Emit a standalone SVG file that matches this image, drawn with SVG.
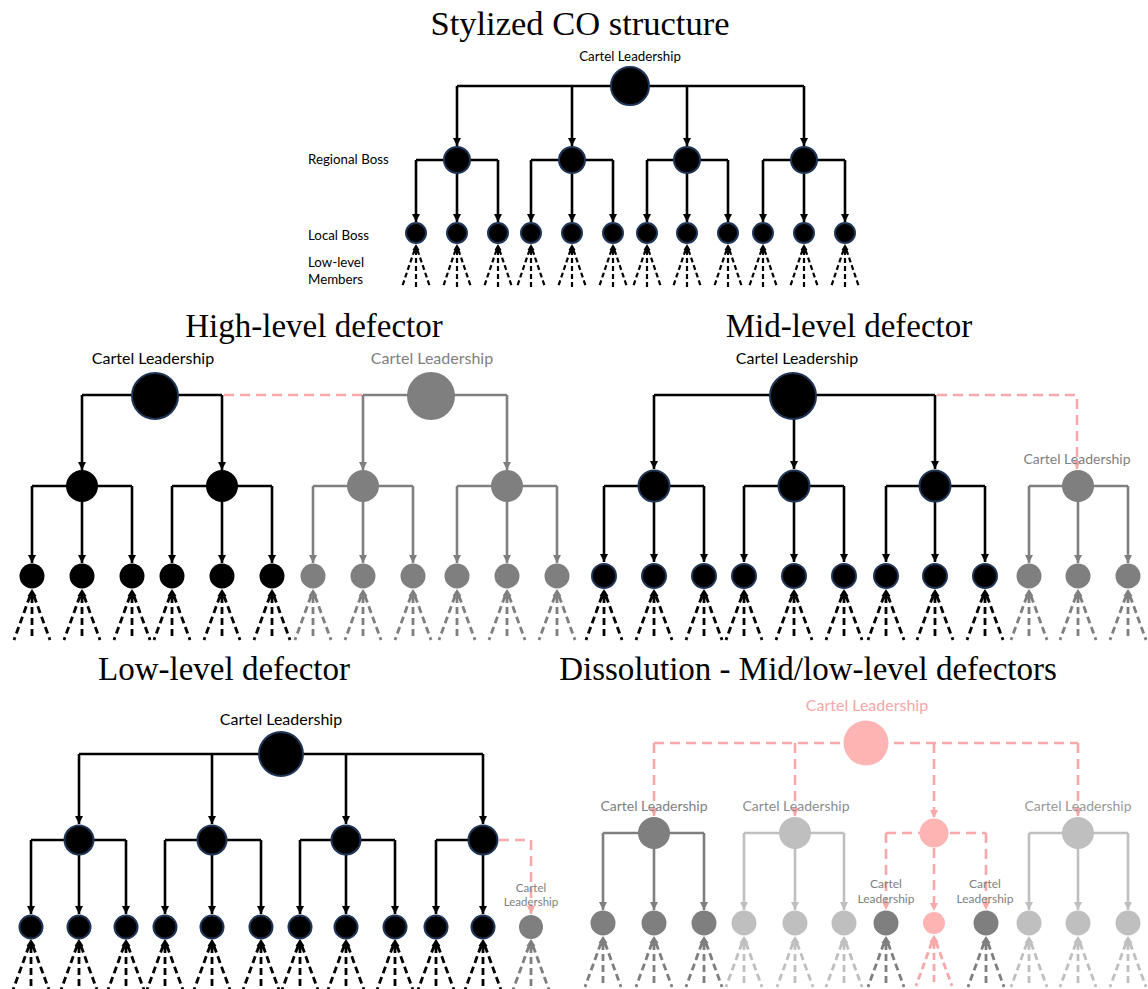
<svg xmlns="http://www.w3.org/2000/svg" xmlns:xlink="http://www.w3.org/1999/xlink" width="1148" height="989" viewBox="0 0 1148 989">
<style>
.title{font-family:"Liberation Serif","DejaVu Serif",serif;font-size:33px;text-anchor:middle;fill:#000}
.lbl{font-family:Lato,"Liberation Sans",sans-serif;fill:#000}
.mid{text-anchor:middle}
.cb,.cg,.cl,.cp{fill:none;stroke-width:2.6}
.cb{stroke:#000}
.cg{stroke:#7f7f7f}
.cl{stroke:#bfbfbf}
.cp{stroke:#f8a8a8;stroke-dasharray:10 6}
.nb{fill:#000;stroke:#1f3556;stroke-width:2}
.nk{fill:#000}
.ng{fill:#7f7f7f}
.nl{fill:#bfbfbf}
.np{fill:#ffb4b4}
.fan path{fill:none;stroke:currentColor}
.fan polygon{fill:currentColor}
</style>
<defs>
<marker id="aB" viewBox="0 0 10 10" refX="10" refY="5" markerWidth="8" markerHeight="8" markerUnits="userSpaceOnUse" orient="auto"><path d="M0,0 L10,5 L0,10z" fill="#000"/></marker>
<marker id="aG" viewBox="0 0 10 10" refX="10" refY="5" markerWidth="8" markerHeight="8" markerUnits="userSpaceOnUse" orient="auto"><path d="M0,0 L10,5 L0,10z" fill="#7f7f7f"/></marker>
<marker id="aL" viewBox="0 0 10 10" refX="10" refY="5" markerWidth="8" markerHeight="8" markerUnits="userSpaceOnUse" orient="auto"><path d="M0,0 L10,5 L0,10z" fill="#bfbfbf"/></marker>
<marker id="aP" viewBox="0 0 10 10" refX="10" refY="5" markerWidth="8" markerHeight="8" markerUnits="userSpaceOnUse" orient="auto"><path d="M0,0 L10,5 L0,10z" fill="#f8a8a8"/></marker>
<g id="fanS" class="fan"><polygon points="0,0 -3.5,6 3.5,6"/><path d="M-1.5,6 L-14,43 M0,6 V43 M1.5,6 L14,43" stroke-width="2.2" stroke-dasharray="5 3"/></g>
<g id="fanL" class="fan"><polygon points="0,0 -4.5,7 4.5,7"/><path d="M-2,7 L-18,51 M0,7 V51 M2,7 L18,51" stroke-width="2.8" stroke-dasharray="7 4"/></g>
</defs>
<rect width="1148" height="989" fill="#fff"/>

<g id="titles">
<text class="title" x="580" y="35" style="font-size:34.5px">Stylized CO structure</text>
<text class="title" x="314" y="337">High-level defector</text>
<text class="title" x="849" y="337">Mid-level defector</text>
<text class="title" x="224" y="680">Low-level defector</text>
<text class="title" x="808" y="680">Dissolution - Mid/low-level defectors</text>
</g>

<g id="level-labels" class="lbl" font-size="13.3">
<text x="308" y="164">Regional Boss</text>
<text x="308" y="240">Local Boss</text>
<text x="308" y="267">Low-level</text>
<text x="308" y="284">Members</text>
</g>

<g id="connectors">
<!-- top -->
<path class="cb" d="M457,86 H804"/>
<path class="cb" marker-end="url(#aB)" d="M457,86 V146"/>
<path class="cb" marker-end="url(#aB)" d="M572,86 V146"/>
<path class="cb" marker-end="url(#aB)" d="M687,86 V146"/>
<path class="cb" marker-end="url(#aB)" d="M804,86 V146"/>
<path class="cb" d="M416,160 H498 M531,160 H613 M647,160 H728 M763,160 H845"/>
<path class="cb" marker-end="url(#aB)" d="M416,160 V222"/>
<path class="cb" marker-end="url(#aB)" d="M457,160 V222"/>
<path class="cb" marker-end="url(#aB)" d="M498,160 V222"/>
<path class="cb" marker-end="url(#aB)" d="M531,160 V222"/>
<path class="cb" marker-end="url(#aB)" d="M572,160 V222"/>
<path class="cb" marker-end="url(#aB)" d="M613,160 V222"/>
<path class="cb" marker-end="url(#aB)" d="M647,160 V222"/>
<path class="cb" marker-end="url(#aB)" d="M687,160 V222"/>
<path class="cb" marker-end="url(#aB)" d="M728,160 V222"/>
<path class="cb" marker-end="url(#aB)" d="M763,160 V222"/>
<path class="cb" marker-end="url(#aB)" d="M804,160 V222"/>
<path class="cb" marker-end="url(#aB)" d="M845,160 V222"/>

<!-- high-level: black -->
<path class="cb" d="M82,395 H222"/>
<path class="cb" marker-end="url(#aB)" d="M82,395 V470"/>
<path class="cb" marker-end="url(#aB)" d="M222,395 V470"/>
<path class="cb" d="M32,486 H132 M172,486 H272"/>
<path class="cb" marker-end="url(#aB)" d="M32,486 V563"/>
<path class="cb" marker-end="url(#aB)" d="M82,486 V563"/>
<path class="cb" marker-end="url(#aB)" d="M132,486 V563"/>
<path class="cb" marker-end="url(#aB)" d="M172,486 V563"/>
<path class="cb" marker-end="url(#aB)" d="M222,486 V563"/>
<path class="cb" marker-end="url(#aB)" d="M272,486 V563"/>
<path class="cp" d="M224,395 H362"/>
<!-- high-level: gray -->
<path class="cg" d="M363,395 H507"/>
<path class="cg" marker-end="url(#aG)" d="M363,395 V470"/>
<path class="cg" marker-end="url(#aG)" d="M507,395 V470"/>
<path class="cg" d="M313,486 H413 M457,486 H557"/>
<path class="cg" marker-end="url(#aG)" d="M313,486 V563"/>
<path class="cg" marker-end="url(#aG)" d="M363,486 V563"/>
<path class="cg" marker-end="url(#aG)" d="M413,486 V563"/>
<path class="cg" marker-end="url(#aG)" d="M457,486 V563"/>
<path class="cg" marker-end="url(#aG)" d="M507,486 V563"/>
<path class="cg" marker-end="url(#aG)" d="M557,486 V563"/>

<!-- mid-level -->
<path class="cb" d="M654,395 H935"/>
<path class="cb" marker-end="url(#aB)" d="M654,395 V469"/>
<path class="cb" marker-end="url(#aB)" d="M794,395 V469"/>
<path class="cb" marker-end="url(#aB)" d="M935,395 V469"/>
<path class="cb" d="M604,486 H704 M744,486 H844 M886,486 H985"/>
<path class="cb" marker-end="url(#aB)" d="M604,486 V562"/>
<path class="cb" marker-end="url(#aB)" d="M654,486 V562"/>
<path class="cb" marker-end="url(#aB)" d="M704,486 V562"/>
<path class="cb" marker-end="url(#aB)" d="M744,486 V562"/>
<path class="cb" marker-end="url(#aB)" d="M794,486 V562"/>
<path class="cb" marker-end="url(#aB)" d="M844,486 V562"/>
<path class="cb" marker-end="url(#aB)" d="M886,486 V562"/>
<path class="cb" marker-end="url(#aB)" d="M935,486 V562"/>
<path class="cb" marker-end="url(#aB)" d="M985,486 V562"/>
<path class="cp" marker-end="url(#aP)" d="M937,395 H1077 V469"/>
<path class="cg" d="M1029,486 H1128"/>
<path class="cg" marker-end="url(#aG)" d="M1029,486 V563"/>
<path class="cg" marker-end="url(#aG)" d="M1078,486 V563"/>
<path class="cg" marker-end="url(#aG)" d="M1128,486 V563"/>

<!-- low-level -->
<path class="cb" d="M79,754 H483"/>
<path class="cb" marker-end="url(#aB)" d="M79,754 V824"/>
<path class="cb" marker-end="url(#aB)" d="M212,754 V824"/>
<path class="cb" marker-end="url(#aB)" d="M346,754 V824"/>
<path class="cb" marker-end="url(#aB)" d="M483,754 V824"/>
<path class="cb" d="M31,840 H126 M165,840 H261 M300,840 H395 M436,840 H483"/>
<path class="cb" marker-end="url(#aB)" d="M31,840 V914"/>
<path class="cb" marker-end="url(#aB)" d="M79,840 V914"/>
<path class="cb" marker-end="url(#aB)" d="M126,840 V914"/>
<path class="cb" marker-end="url(#aB)" d="M165,840 V914"/>
<path class="cb" marker-end="url(#aB)" d="M212,840 V914"/>
<path class="cb" marker-end="url(#aB)" d="M261,840 V914"/>
<path class="cb" marker-end="url(#aB)" d="M300,840 V914"/>
<path class="cb" marker-end="url(#aB)" d="M346,840 V914"/>
<path class="cb" marker-end="url(#aB)" d="M395,840 V914"/>
<path class="cb" marker-end="url(#aB)" d="M436,840 V914"/>
<path class="cb" marker-end="url(#aB)" d="M483,840 V914"/>
<path class="cp" marker-end="url(#aP)" d="M499,840 H531 V914"/>

<!-- dissolution -->
<path class="cp" d="M654,743 H1078"/>
<path class="cp" marker-end="url(#aP)" d="M654,743 V816"/>
<path class="cp" marker-end="url(#aP)" d="M795,743 V816"/>
<path class="cp" marker-end="url(#aP)" d="M934,743 V818"/>
<path class="cp" marker-end="url(#aP)" d="M1078,743 V816"/>
<path class="cg" d="M603,833 H704"/>
<path class="cg" marker-end="url(#aG)" d="M603,833 V910"/>
<path class="cg" marker-end="url(#aG)" d="M654,833 V910"/>
<path class="cg" marker-end="url(#aG)" d="M704,833 V910"/>
<path class="cl" d="M744,833 H844"/>
<path class="cl" marker-end="url(#aL)" d="M744,833 V910"/>
<path class="cl" marker-end="url(#aL)" d="M795,833 V910"/>
<path class="cl" marker-end="url(#aL)" d="M844,833 V910"/>
<path class="cp" d="M886,833 H986"/>
<path class="cp" marker-end="url(#aP)" d="M886,833 V910"/>
<path class="cp" marker-end="url(#aP)" d="M934,848 V911"/>
<path class="cp" marker-end="url(#aP)" d="M986,833 V910"/>
<path class="cl" d="M1029,833 H1128"/>
<path class="cl" marker-end="url(#aL)" d="M1029,833 V910"/>
<path class="cl" marker-end="url(#aL)" d="M1078,833 V910"/>
<path class="cl" marker-end="url(#aL)" d="M1128,833 V910"/>
</g>

<g id="members">
<g style="color:#000">
<use href="#fanS" x="416" y="244"/><use href="#fanS" x="457" y="244"/><use href="#fanS" x="498" y="244"/>
<use href="#fanS" x="531" y="244"/><use href="#fanS" x="572" y="244"/><use href="#fanS" x="613" y="244"/>
<use href="#fanS" x="647" y="244"/><use href="#fanS" x="687" y="244"/><use href="#fanS" x="728" y="244"/>
<use href="#fanS" x="763" y="244"/><use href="#fanS" x="804" y="244"/><use href="#fanS" x="845" y="244"/>
<use href="#fanL" x="32" y="589"/><use href="#fanL" x="82" y="589"/><use href="#fanL" x="132" y="589"/>
<use href="#fanL" x="172" y="589"/><use href="#fanL" x="222" y="589"/><use href="#fanL" x="272" y="589"/>
<use href="#fanL" x="604" y="589"/><use href="#fanL" x="654" y="589"/><use href="#fanL" x="704" y="589"/>
<use href="#fanL" x="744" y="589"/><use href="#fanL" x="794" y="589"/><use href="#fanL" x="844" y="589"/>
<use href="#fanL" x="886" y="589"/><use href="#fanL" x="935" y="589"/><use href="#fanL" x="985" y="589"/>
<use href="#fanL" x="31" y="939"/><use href="#fanL" x="79" y="939"/><use href="#fanL" x="126" y="939"/>
<use href="#fanL" x="165" y="939"/><use href="#fanL" x="212" y="939"/><use href="#fanL" x="261" y="939"/>
<use href="#fanL" x="300" y="939"/><use href="#fanL" x="346" y="939"/><use href="#fanL" x="395" y="939"/>
<use href="#fanL" x="436" y="939"/><use href="#fanL" x="483" y="939"/>
</g>
<g style="color:#7f7f7f">
<use href="#fanL" x="313" y="589"/><use href="#fanL" x="363" y="589"/><use href="#fanL" x="413" y="589"/>
<use href="#fanL" x="457" y="589"/><use href="#fanL" x="507" y="589"/><use href="#fanL" x="557" y="589"/>
<use href="#fanL" x="1029" y="589"/><use href="#fanL" x="1078" y="589"/><use href="#fanL" x="1128" y="589"/>
<use href="#fanL" x="531" y="939"/>
<use href="#fanL" x="603" y="936"/><use href="#fanL" x="654" y="936"/><use href="#fanL" x="704" y="936"/>
<use href="#fanL" x="886" y="936"/><use href="#fanL" x="986" y="936"/>
</g>
<g style="color:#bfbfbf">
<use href="#fanL" x="744" y="936"/><use href="#fanL" x="795" y="936"/><use href="#fanL" x="844" y="936"/>
<use href="#fanL" x="1029" y="936"/><use href="#fanL" x="1078" y="936"/><use href="#fanL" x="1128" y="936"/>
</g>
<g style="color:#f8a8a8">
<use href="#fanL" x="934" y="935"/>
</g>
</g>

<!-- TOP nodes -->
<g id="top-leader"><circle class="nb" cx="630" cy="86" r="19"/><text class="lbl mid" x="630" y="61" font-size="13.3">Cartel Leadership</text></g>
<g id="top-r1"><circle class="nb" cx="457" cy="160" r="13"/></g>
<g id="top-r2"><circle class="nb" cx="572" cy="160" r="13"/></g>
<g id="top-r3"><circle class="nb" cx="687" cy="160" r="13"/></g>
<g id="top-r4"><circle class="nb" cx="804" cy="160" r="13"/></g>
<g id="top-l1"><circle class="nb" cx="416" cy="233" r="10"/></g>
<g id="top-l2"><circle class="nb" cx="457" cy="233" r="10"/></g>
<g id="top-l3"><circle class="nb" cx="498" cy="233" r="10"/></g>
<g id="top-l4"><circle class="nb" cx="531" cy="233" r="10"/></g>
<g id="top-l5"><circle class="nb" cx="572" cy="233" r="10"/></g>
<g id="top-l6"><circle class="nb" cx="613" cy="233" r="10"/></g>
<g id="top-l7"><circle class="nb" cx="647" cy="233" r="10"/></g>
<g id="top-l8"><circle class="nb" cx="687" cy="233" r="10"/></g>
<g id="top-l9"><circle class="nb" cx="728" cy="233" r="10"/></g>
<g id="top-l10"><circle class="nb" cx="763" cy="233" r="10"/></g>
<g id="top-l11"><circle class="nb" cx="804" cy="233" r="10"/></g>
<g id="top-l12"><circle class="nb" cx="845" cy="233" r="10"/></g>

<!-- HIGH-LEVEL nodes -->
<g id="hi-leader"><circle class="nb" cx="155" cy="396" r="23"/><text class="lbl mid" x="153" y="364" font-size="16">Cartel Leadership</text></g>
<g id="hi-r1"><circle class="nk" cx="82" cy="486" r="16"/></g>
<g id="hi-r2"><circle class="nk" cx="222" cy="486" r="16"/></g>
<g id="hi-l1"><circle class="nk" cx="32" cy="576" r="12.5"/></g>
<g id="hi-l2"><circle class="nk" cx="82" cy="576" r="12.5"/></g>
<g id="hi-l3"><circle class="nk" cx="132" cy="576" r="12.5"/></g>
<g id="hi-l4"><circle class="nk" cx="172" cy="576" r="12.5"/></g>
<g id="hi-l5"><circle class="nk" cx="222" cy="576" r="12.5"/></g>
<g id="hi-l6"><circle class="nk" cx="272" cy="576" r="12.5"/></g>
<g id="hi-gleader"><circle class="ng" cx="431" cy="396" r="24"/><text class="lbl mid" x="432" y="364" font-size="16" style="fill:#808080">Cartel Leadership</text></g>
<g id="hi-gr1"><circle class="ng" cx="363" cy="486" r="16"/></g>
<g id="hi-gr2"><circle class="ng" cx="507" cy="486" r="16"/></g>
<g id="hi-gl1"><circle class="ng" cx="313" cy="576" r="12.5"/></g>
<g id="hi-gl2"><circle class="ng" cx="363" cy="576" r="12.5"/></g>
<g id="hi-gl3"><circle class="ng" cx="413" cy="576" r="12.5"/></g>
<g id="hi-gl4"><circle class="ng" cx="457" cy="576" r="12.5"/></g>
<g id="hi-gl5"><circle class="ng" cx="507" cy="576" r="12.5"/></g>
<g id="hi-gl6"><circle class="ng" cx="557" cy="576" r="12.5"/></g>

<!-- MID-LEVEL nodes -->
<g id="mid-leader"><circle class="nb" cx="793" cy="396" r="23"/><text class="lbl mid" x="797" y="364" font-size="16">Cartel Leadership</text></g>
<g id="mid-r1"><circle class="nb" cx="654" cy="486" r="15.5"/></g>
<g id="mid-r2"><circle class="nb" cx="794" cy="486" r="15.5"/></g>
<g id="mid-r3"><circle class="nb" cx="935" cy="486" r="15.5"/></g>
<g id="mid-l1"><circle class="nb" cx="604" cy="576" r="12"/></g>
<g id="mid-l2"><circle class="nb" cx="654" cy="576" r="12"/></g>
<g id="mid-l3"><circle class="nb" cx="704" cy="576" r="12"/></g>
<g id="mid-l4"><circle class="nb" cx="744" cy="576" r="12"/></g>
<g id="mid-l5"><circle class="nb" cx="794" cy="576" r="12"/></g>
<g id="mid-l6"><circle class="nb" cx="844" cy="576" r="12"/></g>
<g id="mid-l7"><circle class="nb" cx="886" cy="576" r="12"/></g>
<g id="mid-l8"><circle class="nb" cx="935" cy="576" r="12"/></g>
<g id="mid-l9"><circle class="nb" cx="985" cy="576" r="12"/></g>
<g id="mid-gr"><circle class="ng" cx="1078" cy="486" r="16"/><text class="lbl mid" x="1077" y="464" font-size="14" style="fill:#808080">Cartel Leadership</text></g>
<g id="mid-gl1"><circle class="ng" cx="1029" cy="576" r="12.5"/></g>
<g id="mid-gl2"><circle class="ng" cx="1078" cy="576" r="12.5"/></g>
<g id="mid-gl3"><circle class="ng" cx="1128" cy="576" r="12.5"/></g>

<!-- LOW-LEVEL nodes -->
<g id="low-leader"><circle class="nb" cx="281" cy="754" r="22"/><text class="lbl mid" x="281" y="725" font-size="16">Cartel Leadership</text></g>
<g id="low-r1"><circle class="nb" cx="79" cy="840" r="14.5"/></g>
<g id="low-r2"><circle class="nb" cx="212" cy="840" r="14.5"/></g>
<g id="low-r3"><circle class="nb" cx="346" cy="840" r="14.5"/></g>
<g id="low-r4"><circle class="nb" cx="483" cy="840" r="14.5"/></g>
<g id="low-l1"><circle class="nb" cx="31" cy="927" r="11.5"/></g>
<g id="low-l2"><circle class="nb" cx="79" cy="927" r="11.5"/></g>
<g id="low-l3"><circle class="nb" cx="126" cy="927" r="11.5"/></g>
<g id="low-l4"><circle class="nb" cx="165" cy="927" r="11.5"/></g>
<g id="low-l5"><circle class="nb" cx="212" cy="927" r="11.5"/></g>
<g id="low-l6"><circle class="nb" cx="261" cy="927" r="11.5"/></g>
<g id="low-l7"><circle class="nb" cx="300" cy="927" r="11.5"/></g>
<g id="low-l8"><circle class="nb" cx="346" cy="927" r="11.5"/></g>
<g id="low-l9"><circle class="nb" cx="395" cy="927" r="11.5"/></g>
<g id="low-l10"><circle class="nb" cx="436" cy="927" r="11.5"/></g>
<g id="low-l11"><circle class="nb" cx="483" cy="927" r="11.5"/></g>
<g id="low-g"><circle class="ng" cx="531" cy="927" r="12"/><text class="lbl mid" x="531" y="892" font-size="11.5" style="fill:#808080">Cartel</text><text class="lbl mid" x="531" y="906" font-size="11.5" style="fill:#808080">Leadership</text></g>

<!-- DISSOLUTION nodes -->
<g id="dis-leader"><circle class="np" cx="866" cy="743" r="22.5"/><text class="lbl mid" x="867" y="711" font-size="16" style="fill:#f6a7a7">Cartel Leadership</text></g>
<g id="dis-a"><circle class="ng" cx="654" cy="833" r="16"/><text class="lbl mid" x="654" y="811" font-size="14" style="fill:#808080">Cartel Leadership</text></g>
<g id="dis-b"><circle class="nl" cx="795" cy="833" r="16"/><text class="lbl mid" x="796" y="811" font-size="14" style="fill:#8c8c8c">Cartel Leadership</text></g>
<g id="dis-c"><circle class="np" cx="934" cy="833" r="14.5"/></g>
<g id="dis-d"><circle class="nl" cx="1078" cy="833" r="16"/><text class="lbl mid" x="1078" y="811" font-size="14" style="fill:#999">Cartel Leadership</text></g>
<g id="dis-a1"><circle class="ng" cx="603" cy="923" r="12.5"/></g>
<g id="dis-a2"><circle class="ng" cx="654" cy="923" r="12.5"/></g>
<g id="dis-a3"><circle class="ng" cx="704" cy="923" r="12.5"/></g>
<g id="dis-b1"><circle class="nl" cx="744" cy="923" r="12.5"/></g>
<g id="dis-b2"><circle class="nl" cx="795" cy="923" r="12.5"/></g>
<g id="dis-b3"><circle class="nl" cx="844" cy="923" r="12.5"/></g>
<g id="dis-c1"><circle class="ng" cx="886" cy="923" r="12.5"/><text class="lbl mid" x="886" y="888" font-size="12" style="fill:#808080">Cartel</text><text class="lbl mid" x="886" y="903" font-size="12" style="fill:#808080">Leadership</text></g>
<g id="dis-c2"><circle class="np" cx="934" cy="923" r="11"/></g>
<g id="dis-c3"><circle class="ng" cx="986" cy="923" r="12.5"/><text class="lbl mid" x="985" y="888" font-size="12" style="fill:#808080">Cartel</text><text class="lbl mid" x="985" y="903" font-size="12" style="fill:#808080">Leadership</text></g>
<g id="dis-d1"><circle class="nl" cx="1029" cy="923" r="12.5"/></g>
<g id="dis-d2"><circle class="nl" cx="1078" cy="923" r="12.5"/></g>
<g id="dis-d3"><circle class="nl" cx="1128" cy="923" r="12.5"/></g>
</svg>
